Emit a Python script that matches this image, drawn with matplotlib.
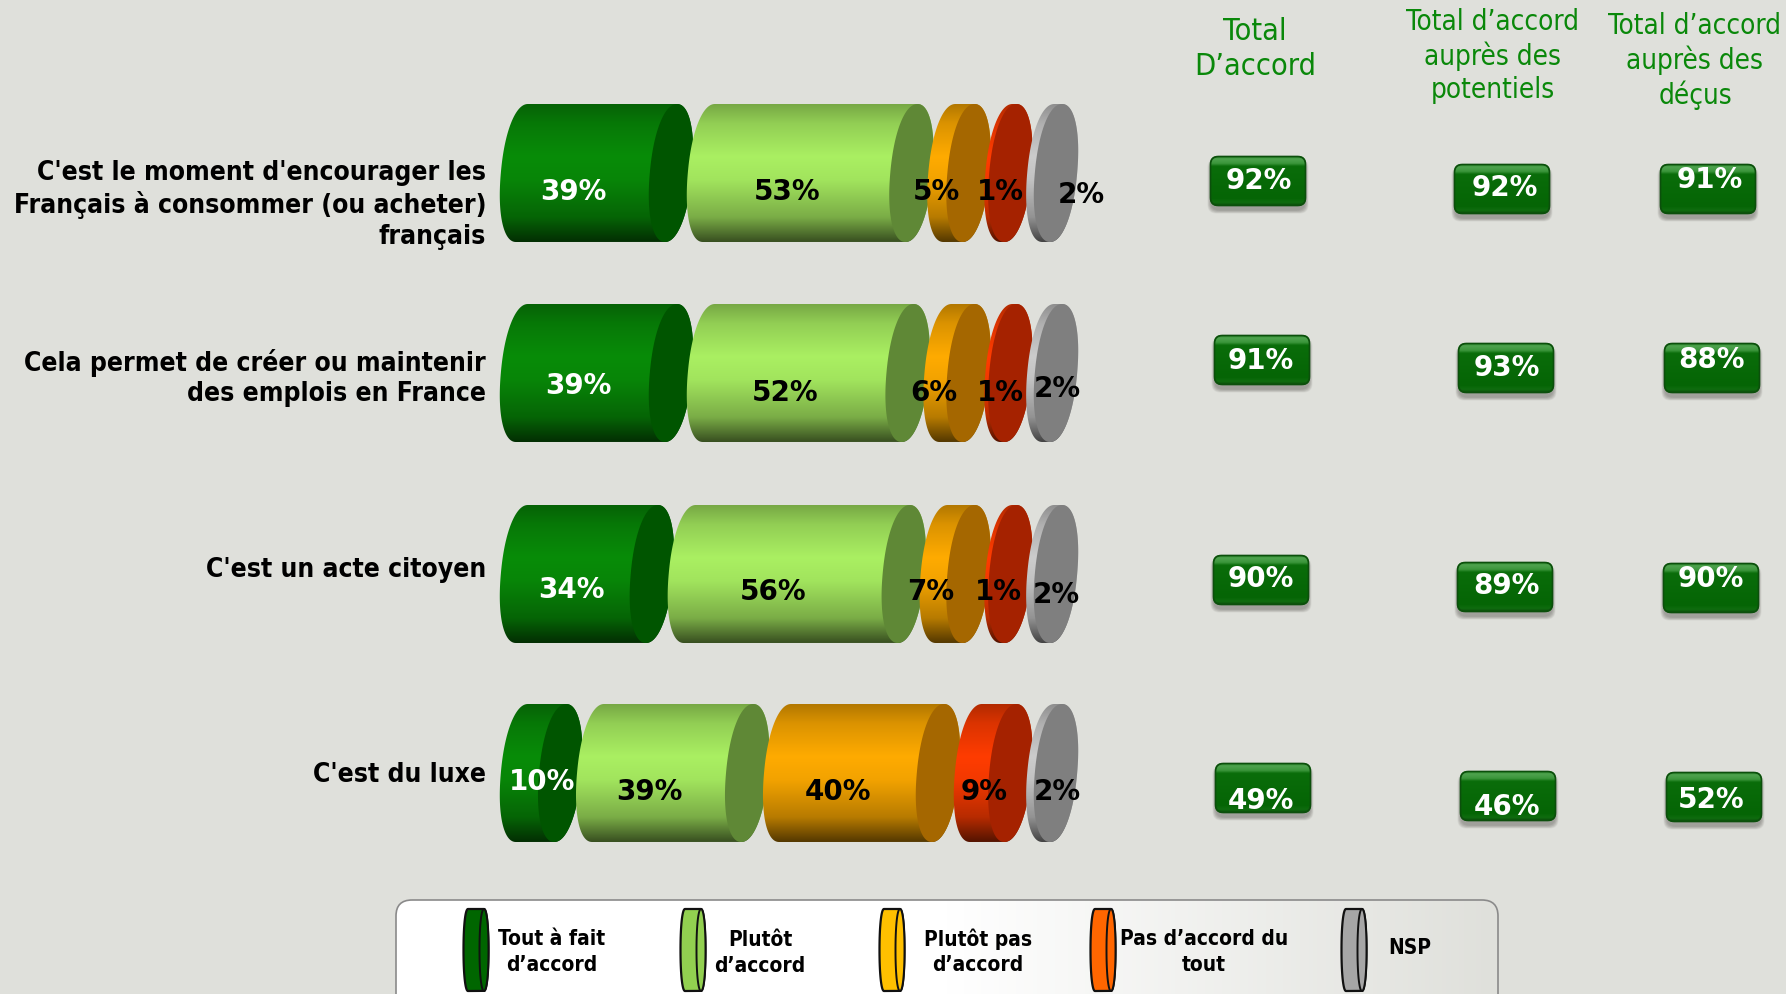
import numpy as np
import matplotlib
matplotlib.use('Agg')
import matplotlib.pyplot as plt
from matplotlib.colors import LinearSegmentedColormap, to_rgb
from matplotlib.patches import FancyBboxPatch, PathPatch
from matplotlib.path import Path

plt.rcParams['font.family'] = 'DejaVu Sans'

# values
questions = ["C'est le moment d'encourager les\nFrançais à consommer (ou acheter)\nfrançais",
             "Cela permet de créer ou maintenir\ndes emplois en France",
             "C'est un acte citoyen",
             "C'est du luxe"]
tout_a_fait = [39, 39, 34, 10]
plutot = [53, 52, 56, 39]
plutot_pas = [5, 6, 7, 40]
pas_du_tout = [1, 1, 1, 9]
nsp = [2, 2, 2, 2]
total_accord = [92, 91, 90, 49]
total_potentiels = [92, 93, 89, 46]
total_decus = [91, 88, 90, 52]
headers = ["Total\nD’accord", "Total d’accord\nauprès des\npotentiels", "Total d’accord\nauprès des\ndéçus"]
legend_labels = ["Tout à fait\nd’accord", "Plutôt\nd’accord", "Plutôt pas\nd’accord", "Pas d’accord du\ntout", "NSP"]

# layout, in pixels of the 1786x994 picture
W, H = 1786, 994
BG = '#dfe0db'
PX = 3.82           # pixels per percent
BAR_LEFT = 500
CAP = 22 / PX       # half width of a cylinder end, in percent units
GAP = 38 / PX
row_top = [104, 304, 505, 704]
row_h = 138
question_y = [205, 378, 570, 775]
body_col = ['#088c08', '#aaf062', '#ffab00', '#ff3c00', '#cccccc']
cap_col = ['#005500', '#5f8836', '#a56700', '#a52200', '#7f7f7f']
shade = [0.70, 0.86, 1.0, 0.95, 0.72, 0.33]
shade_at = [0, 0.14, 0.38, 0.55, 0.82, 1]
# label centres per row (x px, y px)
label_xy = [[(573, 192), (787, 192), (936, 192), (1000, 192), (1081, 195)],
            [(578, 386), (785, 393), (934, 393), (1000, 393), (1057, 389)],
            [(571, 590), (773, 592), (931, 592), (998, 592), (1056, 595)],
            [(542, 782), (649, 792), (838, 792), (984, 792), (1057, 792)]]
badge_xy = [[(1210, 156), (1214, 335), (1213, 555), (1215, 763)],
            [(1454, 164), (1458, 343), (1457, 562), (1460, 771)],
            [(1660, 164), (1664, 343), (1663, 563), (1666, 772)]]
badge_text_xy = [[(1259, 181), (1261, 361), (1261, 579), (1261, 801)],
                 [(1505, 188), (1507, 368), (1506, 586), (1507, 807)],
                 [(1710, 180), (1711, 360), (1711, 579), (1711, 800)]]
header_xy = [(1255, 49), (1493, 56), (1695, 61)]
header_size = [22, 20, 20]
header_ls = [1.26, 1.22, 1.22]
legend_x = [476, 693, 892, 1103, 1354]
legend_text_xy = [(552, 952), (760, 953), (978, 952), (1204, 952), (1410, 948)]
legend_col = ['#006600', '#92d050', '#ffc000', '#ff6600', '#a6a6a6']


def end_curve(cx, cy, a, b, skew, t):
    # slanted, slightly squared ellipse for a cylinder end
    c, s = np.cos(t), np.sin(t)
    x = np.sign(c) * np.abs(c) ** (2 / 2.15)
    y = np.sign(s) * np.abs(s) ** (2 / 2.15)
    return cx + a * x - skew * y, cy + b * y


def closed_patch(xs, ys, **kw):
    verts = np.column_stack([xs, ys])
    codes = [Path.MOVETO] + [Path.LINETO] * (len(xs) - 2) + [Path.CLOSEPOLY]
    return PathPatch(Path(verts, codes), **kw)


def cylinder(ax, start, value, top, height, body, cap, skew):
    # start is the leftmost point, everything is in percent units on x
    cy = top + height / 2
    b = height / 2
    cl, cr = start + CAP, start + CAP + value
    a = np.sqrt(CAP ** 2 - skew ** 2)
    t1 = np.linspace(np.pi / 2, 3 * np.pi / 2, 80)
    t2 = np.linspace(-np.pi / 2, np.pi / 2, 80)
    lx, ly = end_curve(cl, cy, a, b, skew, t1)
    rx, ry = end_curve(cr, cy, a, b, skew, t2)
    outline = closed_patch(np.r_[lx, rx], np.r_[ly, ry], fc='none', ec='none')
    ax.add_patch(outline)
    rgb = np.array(to_rgb(body))
    cmap = LinearSegmentedColormap.from_list(
        'b', [(p, tuple(rgb * k)) for p, k in zip(shade_at, shade)])
    im = ax.imshow(np.linspace(0, 1, 256).reshape(-1, 1), cmap=cmap, aspect='auto',
                   extent=(start - 2, cr + CAP + 2, top + height, top), zorder=2)
    im.set_clip_path(outline)
    t = np.linspace(0, 2 * np.pi, 160)
    ex, ey = end_curve(cr, cy, a, b, skew, t)
    ax.add_patch(closed_patch(ex, ey, fc=cap, ec='none', zorder=2))


def badge(ax, x, y, w=96, h=50):
    for i in range(7, 0, -1):
        ax.add_patch(FancyBboxPatch((x - i / 2 + 1, y + 5 - i / 2 + 1), w + i - 2, h + i - 2,
                                    boxstyle='round,pad=0,rounding_size=9',
                                    fc='#555550', ec='none', alpha=0.08, zorder=3))
    box = FancyBboxPatch((x, y), w, h, boxstyle='round,pad=0,rounding_size=8',
                         fc='#056405', ec='none', zorder=4)
    ax.add_patch(box)
    cmap = LinearSegmentedColormap.from_list(
        'g', [(0, '#1f7f1f'), (0.05, '#4fa34f'), (0.14, '#3c963c'), (0.2, '#0a6d0a'),
              (0.85, '#056505'), (0.93, '#0f6c0f'), (1, '#0a4d0a')])
    im = ax.imshow(np.linspace(0, 1, 100).reshape(-1, 1), cmap=cmap, aspect='auto',
                   extent=(x, x + w, y + h, y), zorder=4)
    im.set_clip_path(box)
    ax.add_patch(FancyBboxPatch((x + 0.5, y + 0.5), w - 1, h - 1,
                                boxstyle='round,pad=0,rounding_size=8',
                                fc='none', ec='#0c4f0c', lw=1.2, zorder=4))


fig = plt.figure(figsize=(W / 100, H / 100), dpi=100, facecolor=BG)

# percent scale on x for the cylinders
ax_bar = fig.add_axes([0, 0, 1, 1], facecolor='none')
# pixel scale for everything around them
ax = fig.add_axes([0, 0, 1, 1], facecolor='none')

rows = list(zip(tout_a_fait, plutot, plutot_pas, pas_du_tout, nsp))
skew = 6 / PX
for r, values in enumerate(rows):
    start = 0
    for v, body, cap in zip(values, body_col, cap_col):
        cylinder(ax_bar, start, v, row_top[r], row_h, body, cap, skew)
        start += v + GAP
    for j, (v, (tx, ty)) in enumerate(zip(values, label_xy[r])):
        ax.text(tx, ty, f'{v}%', ha='center', va='center', fontsize=20, fontweight='bold',
                color='white' if j == 0 else 'black', zorder=6)
    ax.text(486, question_y[r], questions[r], ha='right', va='center', fontsize=19,
            fontweight='bold', stretch='condensed', color='black', linespacing=1.24, zorder=6)

columns = [total_accord, total_potentiels, total_decus]
for c, col in enumerate(columns):
    ax.text(header_xy[c][0], header_xy[c][1], headers[c], ha='center', va='center',
            fontsize=header_size[c], stretch='condensed', color='#0a880a',
            linespacing=header_ls[c], zorder=6)
    for r, v in enumerate(col):
        badge(ax, *badge_xy[c][r])
        tx, ty = badge_text_xy[c][r]
        ax.text(tx, ty, f'{v}%', ha='center', va='center', fontsize=20, fontweight='bold',
                color='white', zorder=6)

# legend box, fades from white to the background
lbox = FancyBboxPatch((396, 900), 1102, 130, boxstyle='round,pad=0,rounding_size=16',
                      fc='none', ec='#8a8a8a', lw=1.2, zorder=3)
ax.add_patch(lbox)
lcmap = LinearSegmentedColormap.from_list('l', ['#ffffff', '#ffffff', BG])
im = ax.imshow(np.linspace(0, 1, 256).reshape(1, -1), cmap=lcmap, aspect='auto',
               extent=(396, 1498, 1030, 900), zorder=2)
im.set_clip_path(lbox)

t1 = np.linspace(np.pi / 2, 3 * np.pi / 2, 40)
t2 = np.linspace(-np.pi / 2, np.pi / 2, 40)
for x, colr, lab, (tx, ty) in zip(legend_x, legend_col, legend_labels, legend_text_xy):
    lx, ly = end_curve(x - 8, 950, 4.5, 41, 0, t1)
    rx, ry = end_curve(x + 8, 950, 4.5, 41, 0, t2)
    ax.add_patch(closed_patch(np.r_[lx, rx], np.r_[ly, ry], fc=colr, ec='#111111', lw=1.6, zorder=4))
    ex, ey = end_curve(x + 8, 950, 4.5, 41, 0, np.linspace(0, 2 * np.pi, 80))
    ax.add_patch(closed_patch(ex, ey, fc=colr, ec='#111111', lw=1.4, zorder=4))
    ax.text(tx, ty, lab, ha='center', va='center', fontsize=15, fontweight='bold',
            stretch='condensed', color='black', linespacing=1.32, zorder=6)

ax_bar.set_xlim(-BAR_LEFT / PX, (W - BAR_LEFT) / PX)
ax_bar.set_ylim(H, 0)
ax.set_xlim(0, W)
ax.set_ylim(H, 0)
ax_bar.axis('off')
ax.axis('off')

plt.savefig('out.png', dpi=100, facecolor=BG)
